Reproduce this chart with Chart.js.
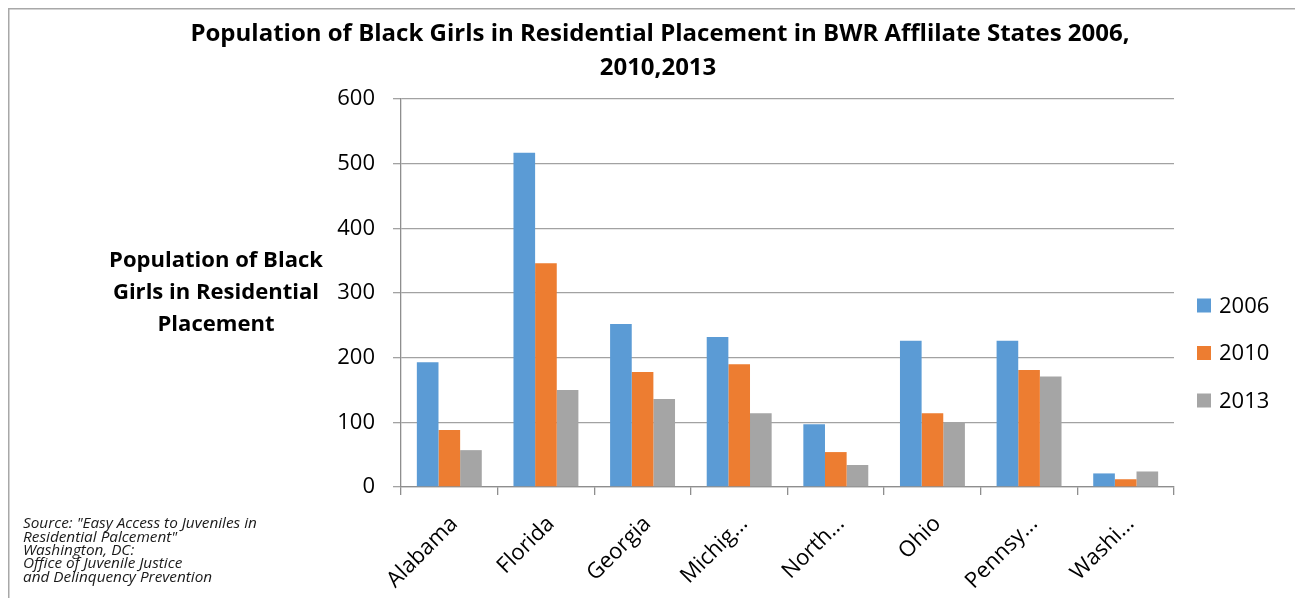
<!DOCTYPE html>
<html>
<head>
<meta charset="utf-8">
<title>Population of Black Girls in Residential Placement</title>
<script src="https://cdn.jsdelivr.net/npm/chart.js@4"></script>
<style>
  html, body { margin: 0; padding: 0; background: #ffffff; overflow: hidden; }
  #wrap { position: relative; width: 1295px; height: 598px; }
  canvas { display: block; }
</style>
</head>
<body>
<div id="wrap"><canvas id="chart" width="1295" height="598"></canvas></div>
<script>
// ---- data ----
const states = ['Alabama', 'Florida', 'Georgia', 'Michig...', 'North...', 'Ohio', 'Pennsy...', 'Washi...'];
const years = ['2006', '2010', '2013'];
const values2006 = [193, 517, 252, 232, 97, 226, 226, 21];
const values2010 = [88, 346, 178, 190, 54, 114, 181, 12];
const values2013 = [57, 150, 136, 114, 34, 100, 171, 24];
const yTickValues = [0, 100, 200, 300, 400, 500, 600];

const titleLines = ['Population of Black Girls in Residential Placement in BWR Afflilate States 2006,', '2010,2013'];
const yTitleLines = ['Population of Black', 'Girls in Residential', 'Placement'];
const sourceLines = [
  'Source: "Easy Access to Juveniles in',
  'Residential Palcement"',
  'Washington, DC:',
  'Office of Juvenile Justice',
  'and Delinquency Prevention'
];

// ---- styling ----
const FONT = '"Open Sans", "Noto Sans", "DejaVu Sans", sans-serif';
const seriesColors = ['#5B9BD5', '#ED7D31', '#A5A5A5'];
const gridColor = '#A2A2A2';
const axisColor = '#8E8E8E';

// font size that makes `text` span `width` pixels
function fitSize(ctx, text, style, width) {
  ctx.font = style + ' 100px ' + FONT;
  return 100 * width / ctx.measureText(text).width;
}

// Text that sits around the plot: frame, title, horizontal axis title, legend, source note
const decorations = {
  id: 'decorations',
  beforeDraw(chart) {
    const ctx = chart.ctx;
    ctx.save();
    ctx.fillStyle = '#ffffff';
    ctx.fillRect(0, 0, chart.width, chart.height);
    ctx.strokeStyle = '#A8A8A8';
    ctx.lineWidth = 1.5;
    ctx.strokeRect(8.75, 8.75, chart.width + 50, chart.height + 50);
    ctx.restore();
  },
  afterDraw(chart) {
    const ctx = chart.ctx;
    ctx.save();
    ctx.fillStyle = '#000000';
    ctx.textBaseline = 'middle';
    ctx.textAlign = 'center';

    // title
    const tSize = Math.min(24, fitSize(ctx, titleLines[0], 'bold', 955));
    ctx.font = 'bold ' + tSize.toFixed(2) + 'px ' + FONT;
    ctx.fillText(titleLines[0], 660, 34);
    ctx.fillText(titleLines[1], 658, 68);

    // value axis title, written horizontally
    const ySize = Math.min(23, fitSize(ctx, yTitleLines[0], 'bold', 214));
    ctx.font = 'bold ' + ySize.toFixed(2) + 'px ' + FONT;
    yTitleLines.forEach((t, i) => ctx.fillText(t, 216, 261 + i * 32));

    // legend
    ctx.textAlign = 'left';
    ctx.font = '22px ' + FONT;
    chart.data.datasets.forEach((ds, i) => {
      const cy = 305.5 + i * 47.5;
      ctx.fillStyle = ds.backgroundColor;
      ctx.fillRect(1197, cy - 7, 14, 14);
      ctx.fillStyle = '#000000';
      ctx.fillText(ds.label, 1219, cy + 1);
    });

    // source note
    const sSize = Math.min(16, fitSize(ctx, sourceLines[0], 'italic', 234));
    ctx.font = 'italic ' + sSize.toFixed(2) + 'px ' + FONT;
    ctx.fillStyle = '#1a1a1a';
    sourceLines.forEach((t, i) => ctx.fillText(t, 23, 524 + i * 13.3));
    ctx.restore();
  }
};

new Chart(document.getElementById('chart'), {
  type: 'bar',
  data: {
    labels: states,
    datasets: [
      { label: years[0], data: values2006, backgroundColor: seriesColors[0] },
      { label: years[1], data: values2010, backgroundColor: seriesColors[1] },
      { label: years[2], data: values2013, backgroundColor: seriesColors[2] }
    ]
  },
  options: {
    responsive: false,
    animation: false,
    devicePixelRatio: 1,
    layout: { padding: { top: 99, right: 121, left: 0, bottom: 0 } },
    datasets: { bar: { categoryPercentage: 0.672, barPercentage: 1.0, borderWidth: 0 } },
    plugins: {
      legend: { display: false },
      title: { display: false },
      tooltip: { enabled: false }
    },
    scales: {
      x: {
        offset: true,
        grid: { display: true, drawOnChartArea: false, drawTicks: true, tickLength: 8, color: axisColor, lineWidth: 1.3 },
        border: { color: axisColor, width: 1.3 },
        ticks: {
          autoSkip: false,
          maxRotation: 45,
          minRotation: 45,
          padding: 16,
          labelOffset: 5,
          color: '#000000',
          font: { family: FONT, size: 22 }
        },
        afterFit(scale) { scale.height = 111; }
      },
      y: {
        min: 0,
        max: 600,
        afterBuildTicks(scale) { scale.ticks = yTickValues.map(v => ({ value: v })); },
        grid: { color: gridColor, lineWidth: 1.3, tickLength: 8, drawTicks: true },
        border: { color: axisColor, width: 1.3 },
        ticks: {
          padding: 18,
          color: '#000000',
          font: { family: FONT, size: 22 }
        },
        afterFit(scale) { scale.width = 401; }
      }
    }
  },
  plugins: [decorations]
});
</script>
</body>
</html>
